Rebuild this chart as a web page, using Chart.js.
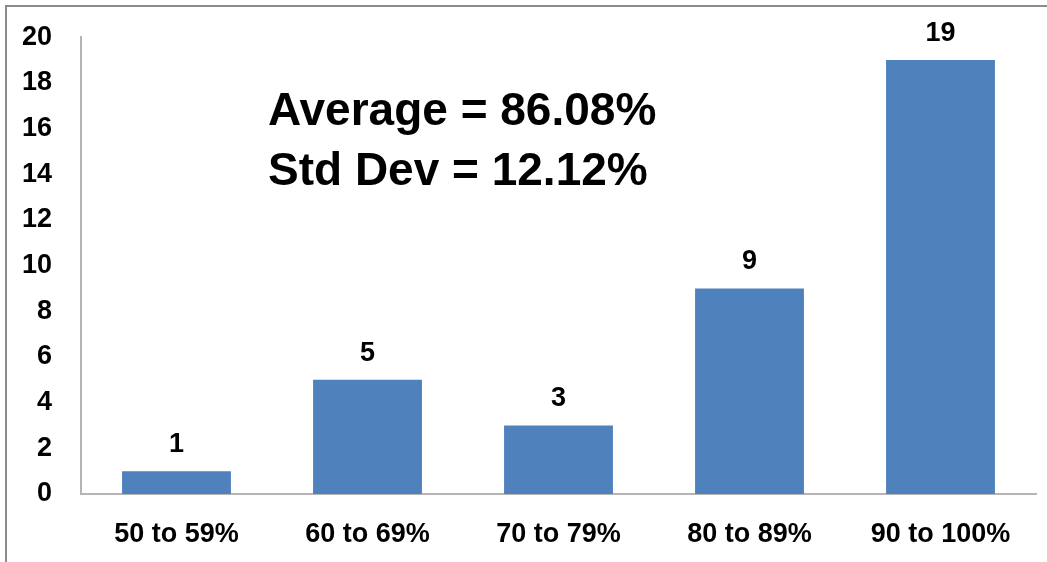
<!DOCTYPE html>
<html>
<head>
<meta charset="utf-8">
<script src="https://cdn.jsdelivr.net/npm/chart.js@4.4.1/dist/chart.umd.min.js"></script>
<style>
  html, body { margin: 0; padding: 0; background: #fff; }
  #wrap { position: relative; width: 1047px; height: 562px; overflow: hidden; }
  #frame { position: absolute; left: 5px; top: 5px; width: 1100px; height: 600px;
           border-top: 2px solid #8c8c8c; border-left: 2px solid #8c8c8c; }
  #chart { position: absolute; left: 0; top: 0; }
</style>
</head>
<body>
<div id="wrap">
  <div id="frame"></div>
  <canvas id="chart" width="1047" height="562"></canvas>
</div>
<script>
// chart data
const categories = ['50 to 59%', '60 to 69%', '70 to 79%', '80 to 89%', '90 to 100%'];
const counts = [1, 5, 3, 9, 19];
const notes = ['Average = 86.08%', 'Std Dev = 12.12%'];

const FONT = '"Liberation Sans", Arial, sans-serif';

// value labels above each bar
const barLabels = {
    id: 'barLabels',
    afterDatasetsDraw(chart) {
        const ctx = chart.ctx;
        const meta = chart.getDatasetMeta(0);
        ctx.save();
        ctx.font = 'bold 27px ' + FONT;
        ctx.fillStyle = '#000';
        ctx.textAlign = 'center';
        ctx.textBaseline = 'alphabetic';
        meta.data.forEach((bar, i) => {
            ctx.fillText(String(counts[i]), bar.x, bar.y - 19);
        });
        ctx.restore();
    }
};

// the two big lines of text
const statsText = {
    id: 'statsText',
    afterDraw(chart) {
        const ctx = chart.ctx;
        ctx.save();
        ctx.font = 'bold 46px ' + FONT;
        ctx.fillStyle = '#000';
        ctx.textAlign = 'left';
        ctx.textBaseline = 'alphabetic';
        ctx.fillText(notes[0], 268, 125);
        ctx.fillText(notes[1], 268, 185);
        ctx.restore();
    }
};

new Chart(document.getElementById('chart'), {
    type: 'bar',
    data: {
        labels: categories,
        datasets: [{
            data: counts,
            backgroundColor: '#4F81BD',
            borderWidth: 0,
            categoryPercentage: 1.0,
            barPercentage: 0.57
        }]
    },
    options: {
        responsive: false,
        animation: false,
        layout: { padding: { top: 28, right: 11, left: 0, bottom: 0 } },
        plugins: {
            legend: { display: false },
            tooltip: { enabled: false }
        },
        scales: {
            x: {
                grid: { display: false },
                border: { display: true, color: '#b5b5b5', width: 2 },
                ticks: { color: '#000', padding: 16, font: { family: FONT, size: 27, weight: 'bold' } },
                afterFit(scale) { scale.height = 68; }
            },
            y: {
                min: 0,
                max: 20,
                grid: { display: false },
                border: { display: true, color: '#b5b5b5', width: 2 },
                ticks: { stepSize: 2, color: '#000', padding: 21, font: { family: FONT, size: 27, weight: 'bold' } },
                afterFit(scale) { scale.width = 81; }
            }
        }
    },
    plugins: [barLabels, statsText]
});
</script>
</body>
</html>
